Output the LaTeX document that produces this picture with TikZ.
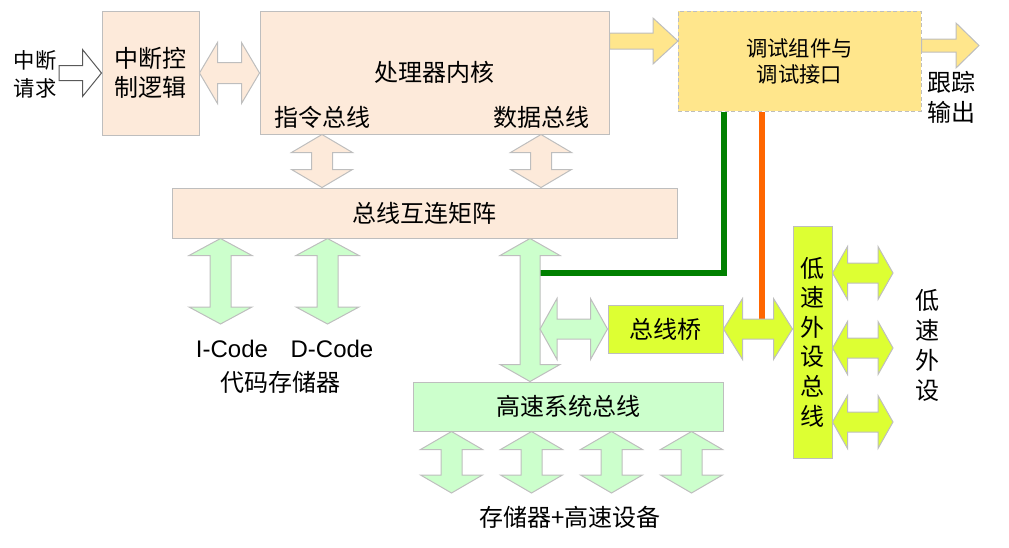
\documentclass[tikz,border=0pt]{standalone}
\usepackage{fontspec}
\setmainfont{Noto Sans CJK SC}
\newfontfamily\latinfont{Liberation Sans}
\usepackage{tikz}
\usetikzlibrary{calc}
\definecolor{Peach}{RGB}{253,234,218}
\definecolor{DebugYellow}{RGB}{255,230,140}
\definecolor{LightGreen}{RGB}{204,255,204}
\definecolor{Lime}{RGB}{221,255,51}
\definecolor{BorderGray}{RGB}{190,190,190}
\definecolor{DarkGreen}{RGB}{0,128,0}
\definecolor{TraceOrange}{RGB}{255,102,0}
\newcommand{\px}{0.75pt}
% block arrows: style, start, end, head length, head half width, shaft half width
\newcommand{\hbiarrow}[6]{%
  \path[#1] let \p1=(#2), \p2=(#3) in
    (\x1,\y1) -- (\x1+#4*\px,\y1+#5*\px) -- (\x1+#4*\px,\y1+#6*\px)
    -- (\x2-#4*\px,\y1+#6*\px) -- (\x2-#4*\px,\y1+#5*\px) -- (\x2,\y1)
    -- (\x2-#4*\px,\y1-#5*\px) -- (\x2-#4*\px,\y1-#6*\px)
    -- (\x1+#4*\px,\y1-#6*\px) -- (\x1+#4*\px,\y1-#5*\px) -- cycle;}
\newcommand{\vbiarrow}[6]{%
  \path[#1] let \p1=(#2), \p2=(#3) in
    (\x1,\y1) -- (\x1+#5*\px,\y1-#4*\px) -- (\x1+#6*\px,\y1-#4*\px)
    -- (\x1+#6*\px,\y2+#4*\px) -- (\x1+#5*\px,\y2+#4*\px) -- (\x1,\y2)
    -- (\x1-#5*\px,\y2+#4*\px) -- (\x1-#6*\px,\y2+#4*\px)
    -- (\x1-#6*\px,\y1-#4*\px) -- (\x1-#5*\px,\y1-#4*\px) -- cycle;}
\newcommand{\harrow}[6]{%
  \path[#1] let \p1=(#2), \p2=(#3) in
    (\x1,\y1+#6*\px) -- (\x2-#4*\px,\y1+#6*\px) -- (\x2-#4*\px,\y1+#5*\px) -- (\x2,\y1)
    -- (\x2-#4*\px,\y1-#5*\px) -- (\x2-#4*\px,\y1-#6*\px) -- (\x1,\y1-#6*\px) -- cycle;}

\begin{document}
\begin{tikzpicture} [x=0.75pt, y=-0.75pt, text=black,
       every node/.style={font=\fontsize{18}{22}\selectfont},
       block/.style n args = {4}{rectangle, fill=#1, draw=#2, line width=0.75pt,
                              inner sep=0pt, align=center,
                              minimum width=#3*\px, minimum height=#4*\px},
       bigarrow/.style = {fill=#1, draw=BorderGray, line width=0.75pt}]
	\useasboundingbox (0,0) rectangle (1009,547);
	%% Blocks
	\node [block={Peach}{BorderGray}{97}{124},
	       font=\fontsize{18}{21.75}\selectfont] (irq_ctl) at (150.5,73) {中断控\\制逻辑};
	\node [block={Peach}{BorderGray}{349}{123}] (cpu) at (434.5,72.5) {处理器内核};
	\node [block={DebugYellow}{BorderGray}{243}{100}, densely dashed,
	       font=\fontsize{16}{19.5}\selectfont] (debug) at (799.5,61) {调试组件与\\调试接口};
	\node [block={Peach}{BorderGray}{505}{50}] (bus_matrix) at (424.5,213) {总线互连矩阵};
	\node [block={Lime}{BorderGray}{115}{48}] (bridge) at (665.5,329) {总线桥};
	\node [block={Lime}{BorderGray}{39}{232},
	       font=\fontsize{18}{22.2}\selectfont] (lsbus) at (812.5,342) {低\\速\\外\\设\\总\\线};
	\node [block={LightGreen}{BorderGray}{310}{49}] (hsbus) at (568,406.5) {高速系统总线};

	%% Labels
	\node [align=center, font=\fontsize{16}{21}\selectfont] (irq_lbl) at (35,74) {中断\\请求};
	\node (ibus) at (322,117) {指令总线};
	\node (dbus) at (541,117) {数据总线};
	\node [align=center, font=\fontsize{18}{22.5}\selectfont] (trace_lbl) at (951,97) {跟踪\\输出};
	\node [font=\latinfont\fontsize{18}{22}\selectfont] (icode) at (232,349) {I-Code};
	\node [font=\latinfont\fontsize{18}{22}\selectfont] (dcode) at (332,349) {D-Code};
	\node (code_mem) at (280,382) {代码存储器};
	\node [align=center, font=\fontsize{18}{22.5}\selectfont] (ls_lbl) at (927,345) {低\\速\\外\\设};
	\node (hs_lbl) at (570,517) {存储器+高速设备};

	%% Arrow ends
	\coordinate (irq_in) at (59,73);
	\coordinate (dbg_in) at (678,41);
	\coordinate (trace_out) at (979,45.5);
	\coordinate (icode_port) at (220.5,324);
	\coordinate (dcode_port) at (327.5,324);
	\coordinate (hs_link) at (530,300);
	\coordinate (hs_tap) at (540,329);
	\coordinate (jtag) at (762,319);
	\foreach \ypos [count=\i] in {273,348,422}
		{\coordinate (ls\i) at (893,\ypos);}
	\foreach \xpos [count=\i] in {451.5,531.5,611.5,691.5}
		{\coordinate (dev\i) at (\xpos,493);}

	%% Debug wires
	\draw[DarkGreen, line width=4.5pt] (debug.south -| bridge.east) |- (hs_tap |- ls1);
	\draw[TraceOrange, line width=4.5pt] (debug.south -| jtag) -- (jtag);

	%% Simple arrows
	\harrow{fill=white, draw=black!65, line width=0.75pt}{irq_in}{irq_ctl.west |- irq_in}{19}{23.5}{7.5}
	\hbiarrow{bigarrow=Peach}{irq_ctl.east}{cpu.west |- irq_ctl.east}{18}{30.5}{10.5}
	\harrow{bigarrow=DebugYellow}{cpu.east |- dbg_in}{dbg_in}{25}{23}{8}
	\harrow{bigarrow=DebugYellow}{debug.east |- trace_out}{trace_out}{23}{22.5}{6.5}
	\vbiarrow{bigarrow=Peach}{cpu.south -| ibus}{bus_matrix.north -| ibus}{18}{30.5}{10.5}
	\vbiarrow{bigarrow=Peach}{cpu.south -| dbus}{bus_matrix.north -| dbus}{18}{30.5}{10.5}
	\vbiarrow{bigarrow=LightGreen}{bus_matrix.south -| icode_port}{icode_port}{17}{31.5}{10.5}
	\vbiarrow{bigarrow=LightGreen}{bus_matrix.south -| dcode_port}{dcode_port}{17}{31.5}{10.5}
	\vbiarrow{bigarrow=LightGreen}{bus_matrix.south -| hs_link}{hsbus.north -| hs_link}{17}{30}{10}
	\hbiarrow{bigarrow=LightGreen}{hs_tap}{bridge.west}{17}{30.5}{10}
	\hbiarrow{bigarrow=Lime}{bridge.east}{lsbus.west |- bridge.east}{19}{30.5}{10}
	\foreach \i in {1,2,3}
		{\hbiarrow{bigarrow=Lime}{lsbus.east |- ls\i}{ls\i}{15}{26.5}{10}}
	\foreach \i in {1,...,4}
		{\vbiarrow{bigarrow=LightGreen}{hsbus.south -| dev\i}{dev\i}{18}{31}{10.5}}
\end{tikzpicture}
\end{document}
